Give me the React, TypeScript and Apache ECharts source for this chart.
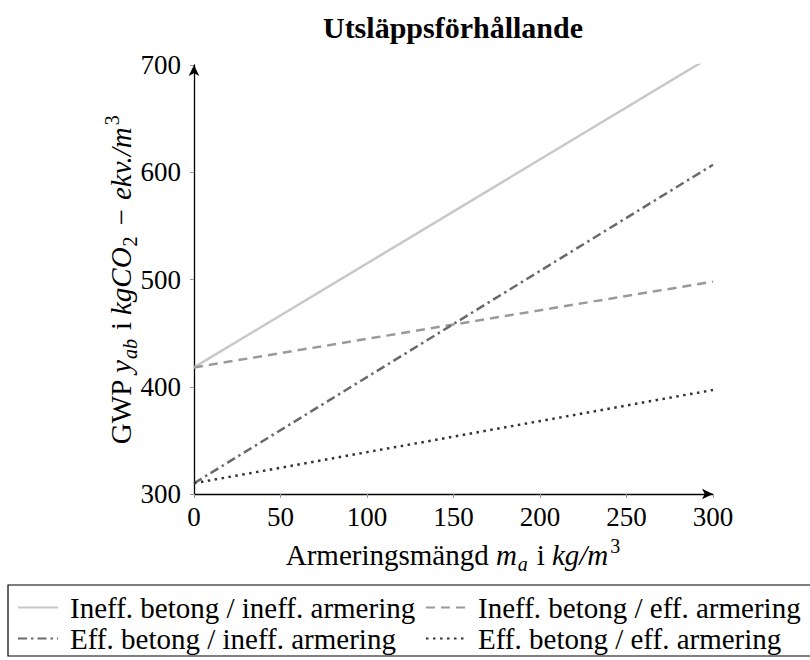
import React, { useEffect, useRef } from "react";
import * as echarts from "echarts";

const xTicks = [0, 50, 100, 150, 200, 250, 300];
const yTicks = [300, 400, 500, 600, 700];
const seriesNames = [
  "Ineff. betong / ineff. armering",
  "Ineff. betong / eff. armering",
  "Eff. betong / ineff. armering",
  "Eff. betong / eff. armering",
];
const xValues = [0, 300];
const ineffIneff = [418, 709];
const ineffEff = [418, 498];
const effIneff = [310, 607];
const effEff = [310, 397];

const FONT = "'Liberation Serif', 'Times New Roman', serif";

export default function App() {
  const ref = useRef<HTMLDivElement>(null);
  useEffect(() => {
    if (!ref.current) return;
    const chart = echarts.init(ref.current, null, { renderer: "svg" });
    const pts = (ys: number[]) => xValues.map((x, i) => [x, ys[i]]);
    const base = { fontFamily: FONT, color: "#000" };
    const rich = {
      n: { ...base, fontSize: 29, lineHeight: 38, verticalAlign: "middle" },
      np: { ...base, fontSize: 29, lineHeight: 38, verticalAlign: "middle", padding: [0, 7, 0, 7] },
      mp: { ...base, fontSize: 29, lineHeight: 38, verticalAlign: "middle", padding: [0, 9, 0, 9] },
      i: { ...base, fontSize: 29, lineHeight: 38, fontStyle: "italic", verticalAlign: "middle" },
      sub: { ...base, fontSize: 20, lineHeight: 20, fontStyle: "italic", verticalAlign: "bottom", padding: [0, 2, 0, 1] },
      subn: { ...base, fontSize: 20, lineHeight: 20, verticalAlign: "bottom", padding: [0, 2, 0, 1] },
      sup: { ...base, fontSize: 20, lineHeight: 20, verticalAlign: "top", padding: [0, 0, 0, 2] },
    };
    const legendText = { fontFamily: FONT, fontSize: 29, lineHeight: 29, color: "#000", padding: [0, 0, 0, 7] };
    const hiddenSymbol = { color: "rgba(0,0,0,0)", borderColor: "rgba(0,0,0,0)", borderWidth: 0 };
    const axisCommon = {
      type: "value",
      splitLine: { show: false },
      axisLine: {
        show: true,
        onZero: false,
        symbol: ["none", "arrow"],
        symbolSize: [8, 11],
        lineStyle: { color: "#000", width: 1.3 },
      },
      axisTick: { show: true, length: 4, lineStyle: { color: "#999", width: 1 } },
    };
    chart.setOption({
      animation: false,
      backgroundColor: "#fff",
      grid: { left: 194, right: 97, top: 65, bottom: 166, containLabel: false, outerBoundsMode: "none" },
      xAxis: {
        ...axisCommon,
        min: xTicks[0],
        max: xTicks[xTicks.length - 1],
        interval: 50,
        axisLabel: { fontFamily: FONT, fontSize: 27, color: "#000", margin: 9 },
      },
      yAxis: {
        ...axisCommon,
        min: yTicks[0],
        max: yTicks[yTicks.length - 1],
        interval: 100,
        axisLabel: { fontFamily: FONT, fontSize: 27, color: "#000", margin: 13 },
      },
      legend: [
        {
          orient: "vertical",
          left: 17,
          top: 593,
          padding: 0,
          itemWidth: 40,
          itemHeight: 14,
          itemGap: 2,
          data: [seriesNames[0], seriesNames[2]],
          textStyle: legendText,
          itemStyle: hiddenSymbol,
        },
        {
          orient: "vertical",
          left: 425,
          top: 593,
          padding: 0,
          itemWidth: 40,
          itemHeight: 14,
          itemGap: 2,
          data: [seriesNames[1], seriesNames[3]],
          textStyle: legendText,
          itemStyle: hiddenSymbol,
        },
      ],
      graphic: [
        {
          type: "rect",
          shape: { x: 8, y: 585, width: 830, height: 71 },
          style: { fill: "none", stroke: "#000", lineWidth: 1.2 },
          silent: true,
        },
        {
          type: "text",
          x: 453,
          y: 27,
          style: {
            text: "Utsläppsförhållande",
            fontFamily: FONT,
            fontWeight: "bold",
            fontSize: 30,
            fill: "#000",
            align: "center",
            verticalAlign: "middle",
          },
        },
        {
          type: "text",
          x: 453,
          y: 555,
          style: {
            text: "{n|Armeringsmängd }{i|m}{sub|a}{np|i}{i|kg/m}{sup|3}",
            rich,
            align: "center",
            verticalAlign: "middle",
          },
        },
        {
          type: "text",
          x: 121,
          y: 280,
          rotation: Math.PI / 2,
          style: {
            text: "{n|GWP }{i|y}{sub|ab}{np|i}{i|kgCO}{subn|2}{mp|−}{i|ekv./m}{sup|3}",
            rich,
            align: "center",
            verticalAlign: "middle",
          },
        },
      ],
      series: [
        {
          name: seriesNames[0],
          type: "line",
          data: pts(ineffIneff),
          symbol: "circle",
          showSymbol: false,
          clip: true,
          lineStyle: { color: "#c8c8c8", width: 2.5, type: "solid" },
          itemStyle: { color: "#c8c8c8" },
        },
        {
          name: seriesNames[1],
          type: "line",
          data: pts(ineffEff),
          symbol: "circle",
          showSymbol: false,
          clip: true,
          lineStyle: { color: "#9a9a9a", width: 2.5, type: [9, 6] },
          itemStyle: { color: "#9a9a9a" },
        },
        {
          name: seriesNames[2],
          type: "line",
          data: pts(effIneff),
          symbol: "circle",
          showSymbol: false,
          clip: true,
          lineStyle: { color: "#6a6a6a", width: 2.5, type: [9, 4, 2.5, 4] },
          itemStyle: { color: "#6a6a6a" },
        },
        {
          name: seriesNames[3],
          type: "line",
          data: pts(effEff),
          symbol: "circle",
          showSymbol: false,
          clip: true,
          lineStyle: { color: "#333", width: 2.5, type: [2.5, 4.5] },
          itemStyle: { color: "#333" },
        },
      ],
    });
    return () => chart.dispose();
  }, []);
  return (
    <div
      ref={ref}
      style={{ position: "fixed", left: 0, top: 0, width: 810, height: 660, background: "#fff" }}
    />
  );
}
